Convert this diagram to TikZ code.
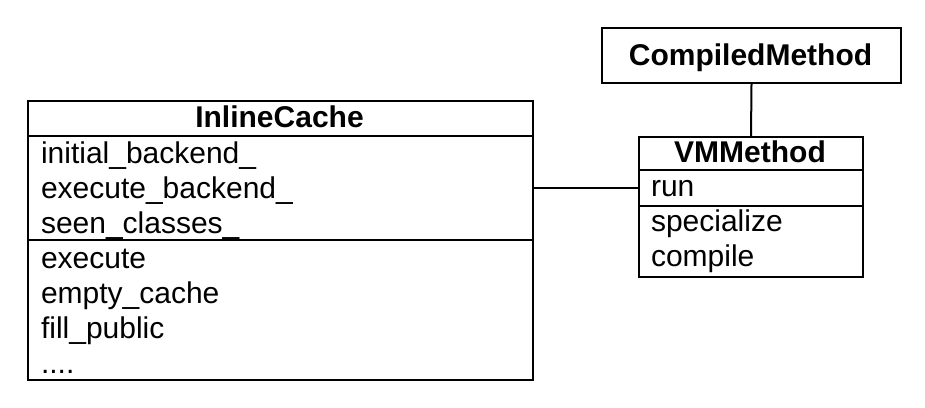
\documentclass[tikz,border=0pt]{standalone}
\usepackage{fontspec}
\setmainfont{Liberation Sans}

\tikzset{every picture/.style={line width=2pt}}
\tikzset{
  compart/.style={draw, rectangle, anchor=north west, inner sep=0pt},
  member/.style={anchor=base west, inner sep=0pt, font=\fontsize{30}{35}\selectfont},
  cname/.style={anchor=base, inner sep=0pt, font=\fontsize{30}{35}\selectfont\bfseries},
}

\begin{document}
\begin{tikzpicture}[x=1pt,y=1pt,yscale=-1]
\useasboundingbox (0,0) rectangle (925,407);

% InlineCache
\node [compart, minimum width=505pt, minimum height=35pt]  (icTitle) at (27,100) {};
\node [compart, minimum width=505pt, minimum height=104pt] (icAttr)  at (27,135) {};
\node [compart, minimum width=505pt, minimum height=140pt] (icOps)   at (27,239) {};
% Text Node
\node [cname]  (icName) at (279.5,127) {InlineCache};
\node [member] (icA1) at (40,163) {initial\_backend\_};
\node [member] (icA2) at (40,198) {execute\_backend\_};
\node [member] (icA3) at (40,233) {seen\_classes\_};
\node [member] (icO1) at (40,268) {execute};
\node [member] (icO2) at (40,303) {empty\_cache};
\node [member] (icO3) at (40,338) {fill\_public};
\node [member] (icO4) at (40,373) {....};

% CompiledMethod
\node [compart, minimum width=299pt, minimum height=55pt] (cm) at (601,27) {};
% Text Node
\node [cname] (cmName) at (750.5,65) {CompiledMethod};

% VMMethod
\node [compart, minimum width=224pt, minimum height=33pt] (vmTitle) at (638,136) {};
\node [compart, minimum width=224pt, minimum height=36pt] (vmAttr)  at (638,169) {};
\node [compart, minimum width=224pt, minimum height=71pt] (vmOps)   at (638,205) {};
% Text Node
\node [cname]  (vmName) at (750,162) {VMMethod};
\node [member] (vmA1) at (650,196) {run};
\node [member] (vmO1) at (650,231) {specialize};
\node [member] (vmO2) at (650,266) {compile};

% Connectors
\draw (icAttr.east) -- (vmAttr.west);
\draw (cm.south) -- (vmTitle.north);

\end{tikzpicture}
\end{document}
